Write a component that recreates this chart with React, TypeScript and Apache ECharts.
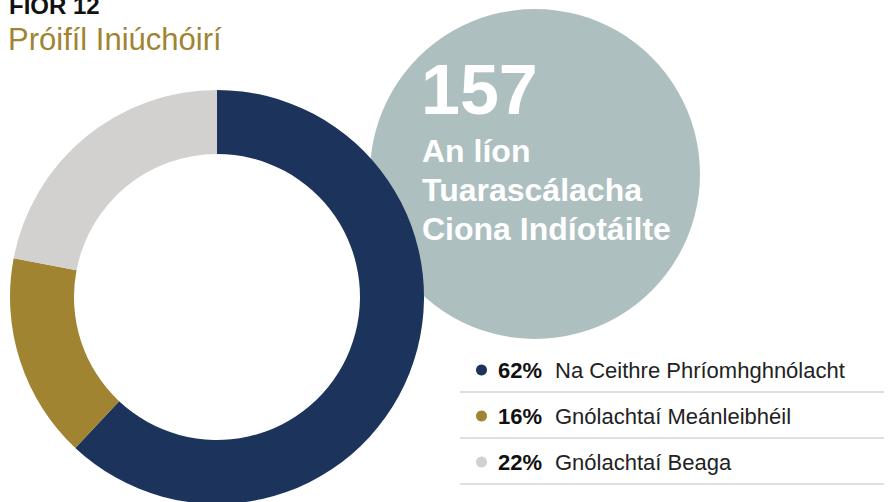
import React, { useEffect, useRef } from "react";
import * as echarts from "echarts";

const categories = ["Na Ceithre Phríomhghnólacht", "Gnólachtaí Meánleibhéil", "Gnólachtaí Beaga"];
const shares = [62, 16, 22];
const colors = ["#1c335c", "#a08431", "#d2d1cf"];
const titleText = "FIOR 12";
const subtitleText = "Próifíl Iniúchóirí";
const bigNumber = "157";
const bigLines = ["An líon", "Tuarascálacha", "Ciona Indíotáilte"];

const FONT = "'Liberation Sans', Arial, Helvetica, sans-serif";

export default function App() {
  const ref = useRef<HTMLDivElement>(null);
  useEffect(() => {
    if (!ref.current) return;
    const chart = echarts.init(ref.current, null, { renderer: "svg" });
    const data = categories.map((name, i) => ({
      name,
      value: shares[i],
      itemStyle: { color: colors[i] },
    }));
    const lineYs = [392, 438, 484];
    chart.setOption({
      animation: false,
      backgroundColor: "#ffffff",
      textStyle: { fontFamily: FONT },
      graphic: [
        {
          type: "circle",
          z: 0,
          shape: { cx: 535, cy: 174, r: 165 },
          style: { fill: "#adc0bf" },
        },
        {
          type: "text",
          z: 10,
          left: 9,
          top: -7,
          style: { text: titleText, font: `bold 24px ${FONT}`, fill: "#111111" },
        },
        {
          type: "text",
          z: 10,
          left: 8,
          top: 24,
          style: { text: subtitleText, font: `31px ${FONT}`, fill: "#a08431" },
        },
        {
          type: "text",
          z: 10,
          left: 421,
          top: 55,
          style: { text: bigNumber, font: `bold 70px ${FONT}`, fill: "#ffffff" },
        },
        {
          type: "text",
          z: 10,
          left: 422,
          top: 131,
          style: {
            text: bigLines.join("\n"),
            font: `bold 32px ${FONT}`,
            lineHeight: 39,
            fill: "#ffffff",
          },
        },
        ...lineYs.map((y) => ({
          type: "line",
          z: 1,
          shape: { x1: 460, y1: y, x2: 884, y2: y },
          style: { stroke: "#d6d6d6", lineWidth: 1.5 },
        })),
      ],
      legend: {
        orient: "vertical",
        left: 471,
        top: 354,
        icon: "circle",
        itemWidth: 11,
        itemHeight: 11,
        itemGap: 24,
        selectedMode: false,
        data: categories,
        formatter: (name: string) => {
          const i = categories.indexOf(name);
          return `{b|${shares[i]}%}{n|${name}}`;
        },
        textStyle: {
          rich: {
            b: {
              fontFamily: FONT,
              fontWeight: "bold",
              fontSize: 22,
              color: "#111111",
              lineHeight: 22,
              padding: [0, 0, 0, 6],
              width: 57,
            },
            n: {
              fontFamily: FONT,
              fontSize: 22,
              color: "#222222",
              lineHeight: 22,
            },
          },
        },
      },
      series: [
        {
          type: "pie",
          z: 2,
          center: [217, 297],
          radius: [143, 207],
          startAngle: 90,
          clockwise: true,
          label: { show: false },
          labelLine: { show: false },
          emphasis: { disabled: true },
          itemStyle: { borderWidth: 0 },
          data,
        },
      ],
    });
    return () => chart.dispose();
  }, []);
  return <div ref={ref} style={{ width: 888, height: 502, position: "fixed", left: 0, top: 0 }} />;
}
